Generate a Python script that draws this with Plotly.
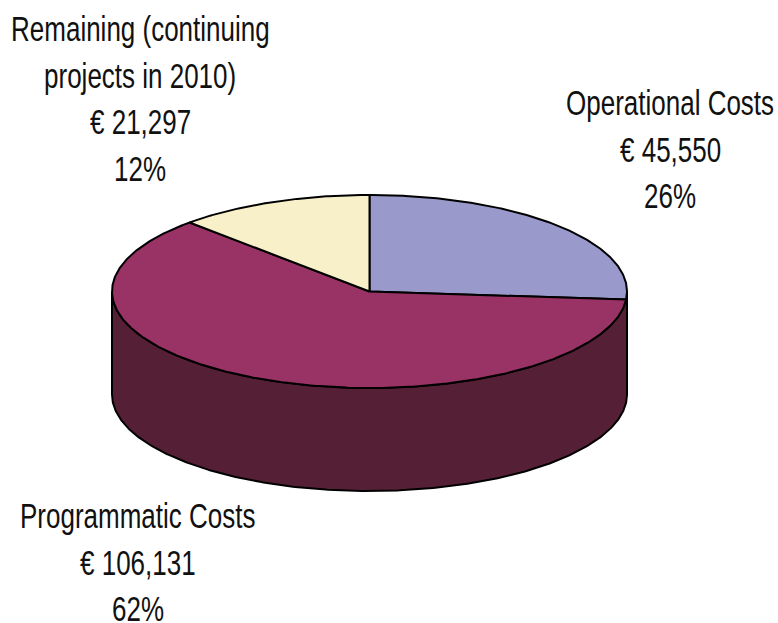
import numpy as np
import plotly.graph_objects as go

categories = ["Operational Costs", "Programmatic Costs", "Remaining (continuing projects in 2010)"]
values = [45550, 106131, 21297]
percents = ["26%", "62%", "12%"]
amounts = ["€ 45,550", "€ 106,131", "€ 21,297"]
label_lines = [["Operational Costs"], ["Programmatic Costs"], ["Remaining (continuing", "projects in 2010)"]]
top_colors = ["#9999CC", "#993366", "#F7F0C8"]
WALL = "#551F35"
LINE = "#000000"

CX, CY, RX, RY, DEPTH = 369.5, 291.5, 257.5, 96.5, 103
LINE_GAP = 46.5
label_pos = [(670, 103), (138, 516), (140, 29)]


def rim(a0, a1, dy=0.0):
    t = np.radians(np.linspace(a0, a1, max(int(abs(a1 - a0) * 2), 2)))
    return CX + RX * np.sin(t), CY + dy - RY * np.cos(t)


fig = go.Figure()

# Side wall: the front half of the rim, extruded downward
xa, ya = rim(90, 270)
xb, yb = rim(270, 90, DEPTH)
fig.add_trace(go.Scatter(
    x=np.r_[xa, xb, xa[0]], y=np.r_[ya, yb, ya[0]], mode="lines", fill="toself",
    fillcolor=WALL, line=dict(color=LINE, width=2), hoverinfo="skip", showlegend=False))

# Top slices, computed from the values
total = sum(values)
angle = 0.0
for cat, val, col in zip(categories, values, top_colors):
    sweep = 360 * val / total
    x, y = rim(angle, angle + sweep)
    fig.add_trace(go.Scatter(
        x=np.r_[CX, x, CX], y=np.r_[CY, y, CY], mode="lines", fill="toself",
        fillcolor=col, line=dict(color=LINE, width=2), name=cat,
        hoverinfo="name", showlegend=False))
    angle += sweep

for lines, amt, pct, (lx, ly) in zip(label_lines, amounts, percents, label_pos):
    for i, text in enumerate(lines + [amt, pct]):
        fig.add_annotation(
            x=lx, y=ly + i * LINE_GAP, text=text, showarrow=False, align="center",
            font=dict(family="Liberation Sans", size=26, color="#111111"))

fig.update_layout(
    width=778, height=623, margin=dict(l=0, r=0, t=0, b=0),
    paper_bgcolor="white", plot_bgcolor="white", showlegend=False,
    xaxis=dict(range=[0, 778], visible=False, fixedrange=True),
    yaxis=dict(range=[623, 0], visible=False, fixedrange=True),
)

# The reference lettering is tall and narrow: stretch the real text vertically.
STRETCH = """
document.body.style.margin='0';document.body.style.overflow='hidden';
document.querySelectorAll('.annotation text').forEach(function(t){
  var b=t.getBBox(), c=b.y+b.height/2;
  t.setAttribute('transform','translate(0 '+c+') scale(1 1.35) translate(0 '+(-c)+')');
});
"""
fig.write_html("out.html", config={"displayModeBar": False}, post_script=STRETCH)
